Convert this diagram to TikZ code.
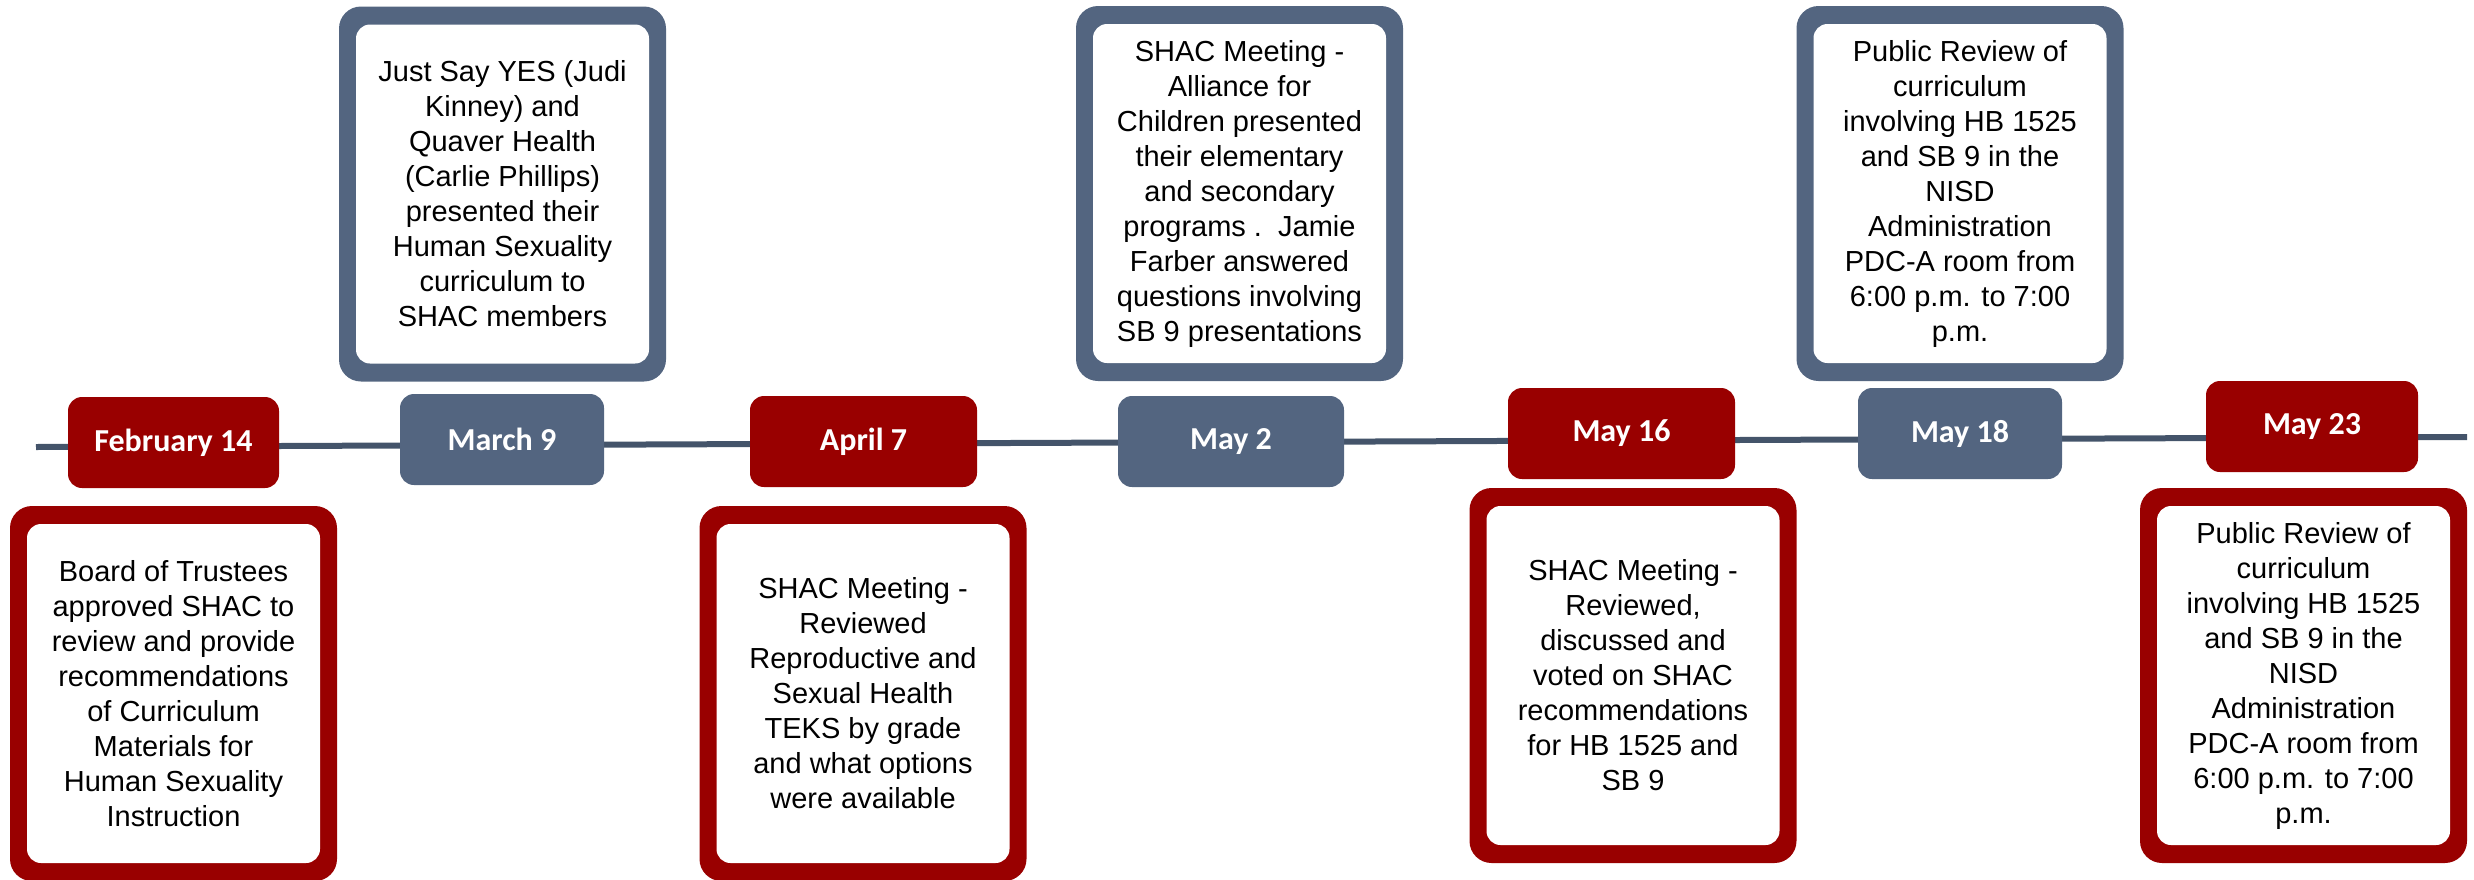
\documentclass[tikz,border=0pt]{standalone}
\usepackage{fontspec}
\setmainfont{Liberation Sans}
\newfontfamily\datefont{Carlito}
\definecolor{tlred}{HTML}{990000}
\definecolor{tlblue}{HTML}{536580}
\definecolor{tlline}{HTML}{44546A}
\tikzset{
  datebox/.style={rectangle, rounded corners=14pt, inner sep=0pt, text=white,
    minimum height=91pt, font=\datefont\bfseries\fontsize{32pt}{38pt}\selectfont},
  outerframe/.style={rectangle, rounded corners=22pt, inner sep=0pt,
    minimum width=327pt, minimum height=375pt},
  descbox/.style={rectangle, rounded corners=14pt, fill=white, inner sep=0pt,
    minimum width=293pt, minimum height=339pt, align=center,
    font=\fontsize{29pt}{35pt}\selectfont},
  timeline/.style={draw=tlline, line width=6pt}
}
\begin{document}
\begin{tikzpicture}[x=1pt,y=-1pt]
\useasboundingbox (0,0) rectangle (2474,879);
% timeline
\coordinate (tlstart) at (36,447);
\coordinate (tlend) at (2467,437);
\draw[timeline] (tlstart) -- (tlend);

% date boxes
\node[datebox, fill=tlred, minimum width=211pt] (feb) at (173.5,442.5) {February 14};
\node[datebox, fill=tlblue, minimum width=204pt] (mar) at (502,439.5) {March 9};
\node[datebox, fill=tlred, minimum width=227pt] (apr) at (863.5,441.5) {April 7};
\node[datebox, fill=tlblue, minimum width=226pt] (maytwo) at (1231,441.5) {May 2};
\node[datebox, fill=tlred, minimum width=227pt] (maysixteen) at (1621.5,433.5) {May 16};
\node[datebox, fill=tlblue, minimum width=204pt] (mayeighteen) at (1960,433.5) {May 18};
\node[datebox, fill=tlred, minimum width=212pt] (maytwentythree) at (2312,426.5) {May 23};

% top description boxes (blue)
\node[outerframe, fill=tlblue] (marframe) at (502.5,194) {};
\node[descbox] (mardesc) at (marframe.center) {Just Say YES (Judi\\Kinney) and\\Quaver Health\\(Carlie Phillips)\\presented their\\Human Sexuality\\curriculum to\\SHAC members};

\node[outerframe, fill=tlblue] (maytwoframe) at (1239.5,193.5) {};
\node[descbox] (maytwodesc) at (maytwoframe.center) {SHAC Meeting -\\Alliance for\\Children presented\\their elementary\\and secondary\\programs .\ \ Jamie\\Farber answered\\questions involving\\SB 9 presentations};

\node[outerframe, fill=tlblue] (mayeighteenframe) at (1960,193.5) {};
\node[descbox] (mayeighteendesc) at (mayeighteenframe.center) {Public Review of\\curriculum\\involving HB 1525\\and SB 9 in the\\NISD\\Administration\\PDC-A room from\\6:00 p.m. to 7:00\\p.m.};

% bottom description boxes (red)
\node[outerframe, fill=tlred] (febframe) at (173.5,693.5) {};
\node[descbox] (febdesc) at (febframe.center) {Board of Trustees\\approved SHAC to\\review and provide\\recommendations\\of Curriculum\\Materials for\\Human Sexuality\\Instruction};

\node[outerframe, fill=tlred] (aprframe) at (863,693.5) {};
\node[descbox] (aprdesc) at (aprframe.center) {SHAC Meeting -\\Reviewed\\Reproductive and\\Sexual Health\\TEKS by grade\\and what options\\were available};

\node[outerframe, fill=tlred] (maysixteenframe) at (1633,675.5) {};
\node[descbox] (maysixteendesc) at (maysixteenframe.center) {SHAC Meeting -\\Reviewed,\\discussed and\\voted on SHAC\\recommendations\\for HB 1525 and\\SB 9};

\node[outerframe, fill=tlred] (maytwentythreeframe) at (2303.5,675.5) {};
\node[descbox] (maytwentythreedesc) at (maytwentythreeframe.center) {Public Review of\\curriculum\\involving HB 1525\\and SB 9 in the\\NISD\\Administration\\PDC-A room from\\6:00 p.m. to 7:00\\p.m.};
\end{tikzpicture}
\end{document}
